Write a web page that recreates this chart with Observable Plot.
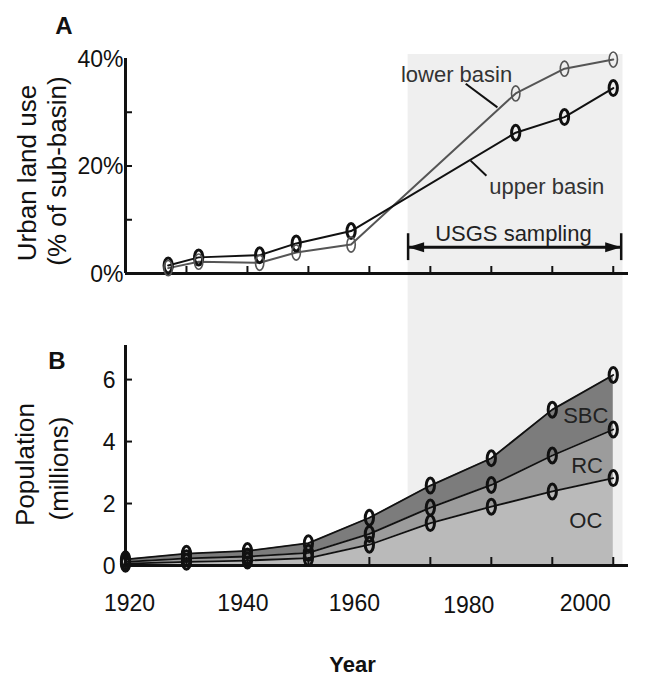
<!DOCTYPE html>
<html><head><meta charset="utf-8">
<script src="https://cdn.jsdelivr.net/npm/d3@7"></script>
<script src="https://cdn.jsdelivr.net/npm/@observablehq/plot@0.6"></script>
<style>
body{margin:0;background:#fff;}
#chart svg{display:block;}
</style></head><body><div id="chart"></div>
<script>
// ---- Panel A: urban land use (% of sub-basin)
const landYears = [1927, 1932, 1942, 1948, 1957, 1984, 1992, 2000];
const upperBasin = [1.5, 3.0, 3.4, 5.6, 7.9, 26.2, 29.1, 34.5];
const lowerBasin = [1.0, 2.2, 2.0, 3.9, 5.4, 33.5, 38.1, 39.8];
const basinLabels = ["lower basin", "upper basin"];
const basinLabelYear = [1974.3, 1989.1];
const basinLabelPct = [35.7, 14.8];
const leaders = [
  {x1: 1975.8, y1: 35.3, x2: 1981.0, y2: 30.9},
  {x1: 1976.6, y1: 21.0, x2: 1979.2, y2: 18.2}
];
const samplingLabel = "USGS sampling";
const samplingYears = [1966.35, 2001.3];   // arrow ends
const shadeYears = [1966.35, 2001.6];      // shaded band
const pctTickLabels = [0, 20, 40];
const pctMinorTicks = [10, 20, 30];

// ---- Panel B: population (millions), stacked by county
const popYears = [1920, 1930, 1940, 1950, 1960, 1970, 1980, 1990, 2000];
const popOC  = [0.06, 0.12, 0.16, 0.24, 0.67, 1.37, 1.90, 2.39, 2.82];
const popRC  = [0.06, 0.11, 0.13, 0.17, 0.35, 0.50, 0.70, 1.16, 1.57];
const popSBC = [0.08, 0.15, 0.18, 0.31, 0.52, 0.71, 0.86, 1.48, 1.76];
const counties = ["OC", "RC", "SBC"];
const countyColors = ["#bababa", "#9c9c9c", "#7c7c7c"];
const countyLabelYear = [1995.5, 1995.7, 1995.5];
const countyLabelPop = [1.21, 2.97, 4.61];
const popTickLabels = [0, 2, 4, 6];
const popMinorTicks = [2, 4, 6];
const yearTicks = [1930, 1940, 1950, 1960, 1970, 1980, 1990, 2000];
const yearLabels = [1920, 1940, 1960, 1980, 2000];
const yearLabelDx = [4, -4.5, -15, -22.5, -28];
const yearLabelDy = [45, 45, 45, 47, 45];

const xDomain = [1920, 2002.5];
const font = "'Liberation Sans', Arial, Helvetica, sans-serif";

const landData = landYears.flatMap((yr, i) => [
  {year: yr, basin: "upper", v: upperBasin[i]},
  {year: yr, basin: "lower", v: lowerBasin[i]}
]);
const popData = popYears.flatMap((yr, i) => [
  {year: yr, county: "OC", value: popOC[i]},
  {year: yr, county: "RC", value: popRC[i]},
  {year: yr, county: "SBC", value: popSBC[i]}
]);

// tall ellipse marker
const ellipse = {draw(ctx, size) {
  const ry = Math.sqrt(size / Math.PI), rx = ry * 0.55, k = 0.5523;
  ctx.moveTo(rx, 0);
  ctx.bezierCurveTo(rx, k * ry, k * rx, ry, 0, ry);
  ctx.bezierCurveTo(-k * rx, ry, -rx, k * ry, -rx, 0);
  ctx.bezierCurveTo(-rx, -k * ry, -k * rx, -ry, 0, -ry);
  ctx.bezierCurveTo(k * rx, -ry, rx, -k * ry, rx, 0);
  ctx.closePath();
}};
// filled arrow head, tip at origin pointing +x
const arrowHead = {draw(ctx) {
  ctx.moveTo(0, 0); ctx.lineTo(-16, -5); ctx.lineTo(-16, 5); ctx.closePath();
}};

const upper = landData.filter(d => d.basin === "upper");
const lower = landData.filter(d => d.basin === "lower");
const arrowY = 4.9;

const plotA = Plot.plot({
  width: 660, height: 300,
  marginLeft: 125, marginRight: 32, marginTop: 58, marginBottom: 27,
  style: {fontFamily: font, fontSize: "23px", color: "#111", background: "white"},
  x: {domain: xDomain, axis: null, label: null},
  y: {domain: [0, 40], axis: null, label: null},
  marks: [
    Plot.rect([0], {x1: shadeYears[0], x2: shadeYears[1], y1: -5.2, y2: 40.75, fill: "#efefef"}),
    Plot.axisX({ticks: yearTicks, tickSize: 7, dy: -7, tickFormat: () => "", strokeWidth: 2, label: null}),
    Plot.axisY({ticks: pctMinorTicks, tickSize: 7, dx: 7, tickFormat: () => "", strokeWidth: 2, label: null}),
    Plot.axisY({ticks: pctTickLabels, tickSize: 0, tickPadding: 2, tickFormat: d => d + "%", fontSize: 23, dy: 1, label: null}),
    Plot.ruleX([xDomain[0]], {y1: 0, y2: 40, strokeWidth: 3, stroke: "#111"}),
    Plot.ruleY([0], {strokeWidth: 3, stroke: "#111"}),
    Plot.link(leaders, {x1: "x1", y1: "y1", x2: "x2", y2: "y2", stroke: "#111", strokeWidth: 2}),
    Plot.line(lower, {x: "year", y: "v", stroke: "#555", strokeWidth: 2}),
    Plot.line(upper, {x: "year", y: "v", stroke: "#111", strokeWidth: 2}),
    Plot.dot(upper, {x: "year", y: "v", symbol: ellipse, r: 7.5, stroke: "#111", strokeWidth: 3, fill: "none"}),
    Plot.dot(lower, {x: "year", y: "v", symbol: ellipse, r: 7.6, stroke: "#555", strokeWidth: 1.6, fill: "none"}),
    Plot.text(basinLabels, {x: (d, i) => basinLabelYear[i], y: (d, i) => basinLabelPct[i], text: d => d,
      fontSize: 22, fill: "#333", textAnchor: "middle", lineAnchor: "bottom"}),
    Plot.ruleY([arrowY], {x1: samplingYears[0], x2: samplingYears[1], strokeWidth: 3, stroke: "#111"}),
    Plot.ruleX(samplingYears, {y1: 2.4, y2: 7.4, strokeWidth: 2.5, stroke: "#111"}),
    Plot.dot(samplingYears, {x: d => d, y: () => arrowY, symbol: arrowHead, rotate: (d, i) => i === 0 ? 180 : 0, fill: "#111", stroke: "none"}),
    Plot.text([samplingLabel], {x: d3.mean(samplingYears) - 0.2, y: 6.1, text: d => d, fontSize: 22, fill: "#222", textAnchor: "middle", lineAnchor: "bottom"}),
    Plot.text(["A"], {frameAnchor: "top-left", dx: -61.5, dy: -25, text: d => d, fontSize: 24, fontWeight: "bold", textAnchor: "middle", lineAnchor: "bottom"}),
    Plot.text(["Urban land use"], {frameAnchor: "left", rotate: -90, dx: -90, dy: 7, text: d => d, fontSize: 26, textAnchor: "middle", lineAnchor: "bottom"}),
    Plot.text(["(% of sub-basin)"], {frameAnchor: "left", rotate: -90, dx: -60, dy: 5, text: d => d, fontSize: 26, textAnchor: "middle", lineAnchor: "bottom"})
  ]
});

const plotB = Plot.plot({
  width: 660, height: 377,
  marginLeft: 125, marginRight: 32, marginTop: 45, marginBottom: 112,
  style: {fontFamily: font, fontSize: "23px", color: "#111", background: "white"},
  x: {domain: xDomain, axis: null, label: null},
  y: {domain: [0, 7.1], axis: null, label: null},
  color: {domain: counties, range: countyColors},
  marks: [
    Plot.rect([0], {x1: shadeYears[0], x2: shadeYears[1], y1: 0, y2: 8.7, fill: "#efefef"}),
    Plot.areaY(popData, {x: "year", y: "value", z: "county", fill: "county", order: counties}),
    Plot.axisX({ticks: yearTicks, tickSize: 8, dy: -8, tickFormat: () => "", strokeWidth: 2, label: null}),
    Plot.axisY({ticks: popMinorTicks, tickSize: 7, dx: 7, tickFormat: () => "", strokeWidth: 2, label: null}),
    Plot.axisY({ticks: popTickLabels, tickSize: 0, tickPadding: 10, fontSize: 23, dy: 1, label: null}),
    Plot.ruleX([xDomain[0]], {y1: 0, y2: 7.1, strokeWidth: 3, stroke: "#111"}),
    Plot.ruleY([0], {strokeWidth: 3, stroke: "#111"}),
    Plot.line(popData, Plot.stackY2({x: "year", y: "value", z: "county", order: counties, stroke: "#111", strokeWidth: 1.8})),
    Plot.dot(popData, Plot.stackY2({x: "year", y: "value", z: "county", order: counties, symbol: ellipse, r: 7.5, stroke: "#111", strokeWidth: 3, fill: "none"})),
    Plot.text(counties, {x: (d, i) => countyLabelYear[i], y: (d, i) => countyLabelPop[i], text: d => d, fontSize: 22, fill: "#222", textAnchor: "middle", lineAnchor: "bottom"}),
    ...yearLabels.map((yr, i) => Plot.text([yr], {x: d => d, frameAnchor: "bottom", dx: yearLabelDx[i], dy: yearLabelDy[i], text: d => String(d), fontSize: 23, textAnchor: "middle", lineAnchor: "bottom"})),
    Plot.text(["Year"], {frameAnchor: "bottom", dx: -24.5, dy: 106, text: d => d, fontSize: 22, fontWeight: "bold", textAnchor: "middle", lineAnchor: "bottom"}),
    Plot.text(["B"], {frameAnchor: "top-left", dx: -68.5, dy: 23, text: d => d, fontSize: 24, fontWeight: "bold", textAnchor: "middle", lineAnchor: "bottom"}),
    Plot.text(["Population"], {frameAnchor: "left", rotate: -90, dx: -92, dy: 9, text: d => d, fontSize: 26, textAnchor: "middle", lineAnchor: "bottom"}),
    Plot.text(["(millions)"], {frameAnchor: "left", rotate: -90, dx: -58, dy: 13, text: d => d, fontSize: 26, textAnchor: "middle", lineAnchor: "bottom"})
  ]
});

document.getElementById("chart").append(plotA, plotB);
</script>
</body></html>
